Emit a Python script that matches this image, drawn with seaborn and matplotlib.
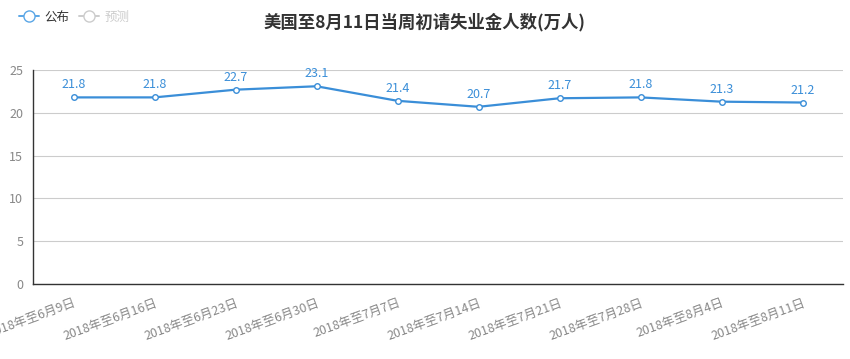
import matplotlib
matplotlib.use("Agg")
import matplotlib.pyplot as plt
import seaborn as sns
import pandas as pd
from matplotlib.lines import Line2D

categories = ["2018年至6月9日", "2018年至6月16日", "2018年至6月23日", "2018年至6月30日",
              "2018年至7月7日", "2018年至7月14日", "2018年至7月21日", "2018年至7月28日",
              "2018年至8月4日", "2018年至8月11日"]
published = [21.8, 21.8, 22.7, 23.1, 21.4, 20.7, 21.7, 21.8, 21.3, 21.2]
yticks = [0, 5, 10, 15, 20, 25]
title = "美国至8月11日当周初请失业金人数(万人)"

sns.set_theme(style="white")
plt.rcParams['font.family'] = ['Noto Sans CJK SC', 'DejaVu Sans']

blue = "#3a8ed8"
df = pd.DataFrame({"x": range(len(categories)), "y": published})

fig = plt.figure(figsize=(8.5, 3.59), dpi=100)
ax = fig.add_axes([33/850, 1-284/359, 810/850, 214/359])
sns.lineplot(data=df, x="x", y="y", ax=ax, color=blue, linewidth=1.6,
             marker="o", markersize=4, markerfacecolor="white",
             markeredgecolor=blue, markeredgewidth=1.0)
for i, v in enumerate(published):
    ax.text(i, v + 0.7, f"{v}", ha="center", va="bottom", color=blue, fontsize=9)

ax.set_xlim(-0.5, len(categories) - 0.5)
ax.set_ylim(0, 25)
ax.set_yticks(yticks)
ax.set_yticklabels([str(t) for t in yticks], color="#888888", fontsize=9)
ax.set_xticks([i - 0.5 for i in range(len(categories) + 1)])
ax.set_xticklabels([])
ax.set_xticks(range(len(categories)), minor=True)
ax.set_xticklabels(categories, minor=True, rotation=20, ha="right",
                   rotation_mode="anchor", color="#888888", fontsize=9)
ax.tick_params(axis="x", which="major", length=5, color="#333333", direction="out")
ax.tick_params(axis="x", which="minor", length=0, pad=9)
ax.tick_params(axis="y", length=5, color="#333333", direction="out", pad=2)
ax.grid(axis="y", color="#cccccc", linewidth=0.8)
ax.set_axisbelow(True)
for s in ["top", "right"]:
    ax.spines[s].set_visible(False)
for s in ["left", "bottom"]:
    ax.spines[s].set_color("#333333")
    ax.spines[s].set_linewidth(1.0)
ax.set_xlabel("")
ax.set_ylabel("")

fig.text(0.5, 1 - 22/359, title, ha="center", va="center", fontsize=12.5,
         fontweight="bold", color="#333333")

handles = [
    Line2D([0], [0], color="#5aa6e6", lw=1.4, marker="o", markersize=8,
           markerfacecolor="white", markeredgecolor="#5aa6e6"),
    Line2D([0], [0], color="#cccccc", lw=1.4, marker="o", markersize=8,
           markerfacecolor="white", markeredgecolor="#cccccc"),
]
leg = fig.legend(handles, ["公布", "预测"], loc="center left",
                 bbox_to_anchor=(8/850, 1 - 17/359), ncol=2, frameon=False,
                 fontsize=9, handlelength=1.6, handletextpad=0.4, columnspacing=0.8)
leg.get_texts()[0].set_color("#333333")
leg.get_texts()[1].set_color("#cccccc")

fig.savefig("out.png", dpi=100)
